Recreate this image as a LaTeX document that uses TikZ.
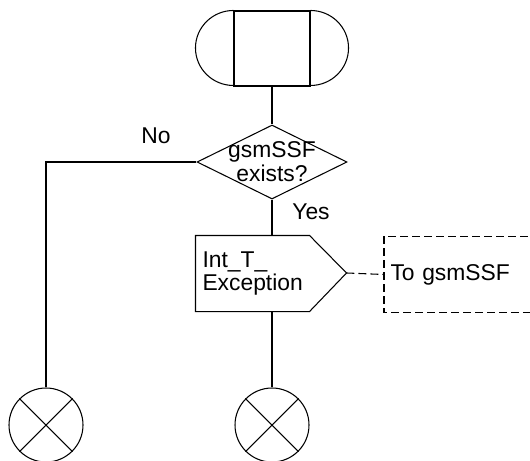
\documentclass[tikz,border=0pt]{standalone}
\usepackage{fontspec}
\setmainfont{Liberation Sans}
\usepackage{tikz}
\usetikzlibrary{shapes.geometric, positioning, calc}

\begin{document}
\begin{tikzpicture}[
        line width=0.6pt,
        every node/.style={font=\fontsize{13}{13.6}\selectfont},
        termbox/.style={rectangle, draw, minimum width=1.52cm, minimum height=1.5cm, inner sep=0pt},
        decision/.style={diamond, draw, minimum width=3cm, minimum height=1.48cm, inner sep=0pt},
        outbox/.style={rectangle, minimum width=2.26cm, minimum height=1.5cm,
                       text width=2.0cm, inner xsep=0.13cm, inner ysep=0pt, align=left},
        destbox/.style={rectangle, anchor=west, minimum width=5cm, minimum height=1.5cm,
                        text width=4.76cm, inner xsep=0.12cm, align=left},
        dashline/.style={dash pattern=on 4.5pt off 2.3pt},
        stopcirc/.style={circle, draw, minimum size=1.48cm, inner sep=0pt},
        lbl/.style={inner sep=0pt, align=center}
    ]
    \useasboundingbox (0,0) rectangle (10.6,-9.2);
    \clip (0,0) rectangle (10.6,-9.2);

    \node[termbox]  (start) at (5.44, -0.97) {};
    \draw (start.north west) arc[start angle=90, end angle=270, x radius=0.76cm, y radius=0.75cm];
    \draw (start.north east) arc[start angle=90, end angle=-90, x radius=0.76cm, y radius=0.75cm];

    \node[decision] (dec) at (5.44, -3.24) {};
    \node[lbl] at (dec) {gsmSSF\\exists?};

    \node[outbox] (out) at (5.05, -5.47) {Int\_T\_\\Exception};
    \draw (out.north west) -- (out.north east) -- ++(0.74,-0.75) coordinate (outtip)
          -- (out.south east) -- (out.south west) -- cycle;

    % comment box runs off the right edge
    \node[destbox] (dest) at (7.68, -5.49) {To gsmSSF};
    \draw[dashline] (dest.north east) -- (dest.north west) -- (dest.south west) -- (dest.south east);

    \node[stopcirc] (endl) at (0.92, -8.5) {};
    \node[stopcirc] (endr) at (5.44, -8.5) {};
    \draw (endl.north west) -- (endl.south east) (endl.north east) -- (endl.south west);
    \draw (endr.north west) -- (endr.south east) (endr.north east) -- (endr.south west);

    \draw (start.south) -- (dec.north);
    \draw (dec.south) -- (dec.south |- out.north);
    \draw (dec.south |- out.south) -- (endr.north);
    \draw (dec.west) -| (endl.north);
    \draw[dashline] (outtip) -- (dest.west);

    \node[lbl] (no)  at (3.12, -2.72) {No};
    \node[lbl] (yes) at (6.22, -4.24) {Yes};
\end{tikzpicture}
\end{document}
